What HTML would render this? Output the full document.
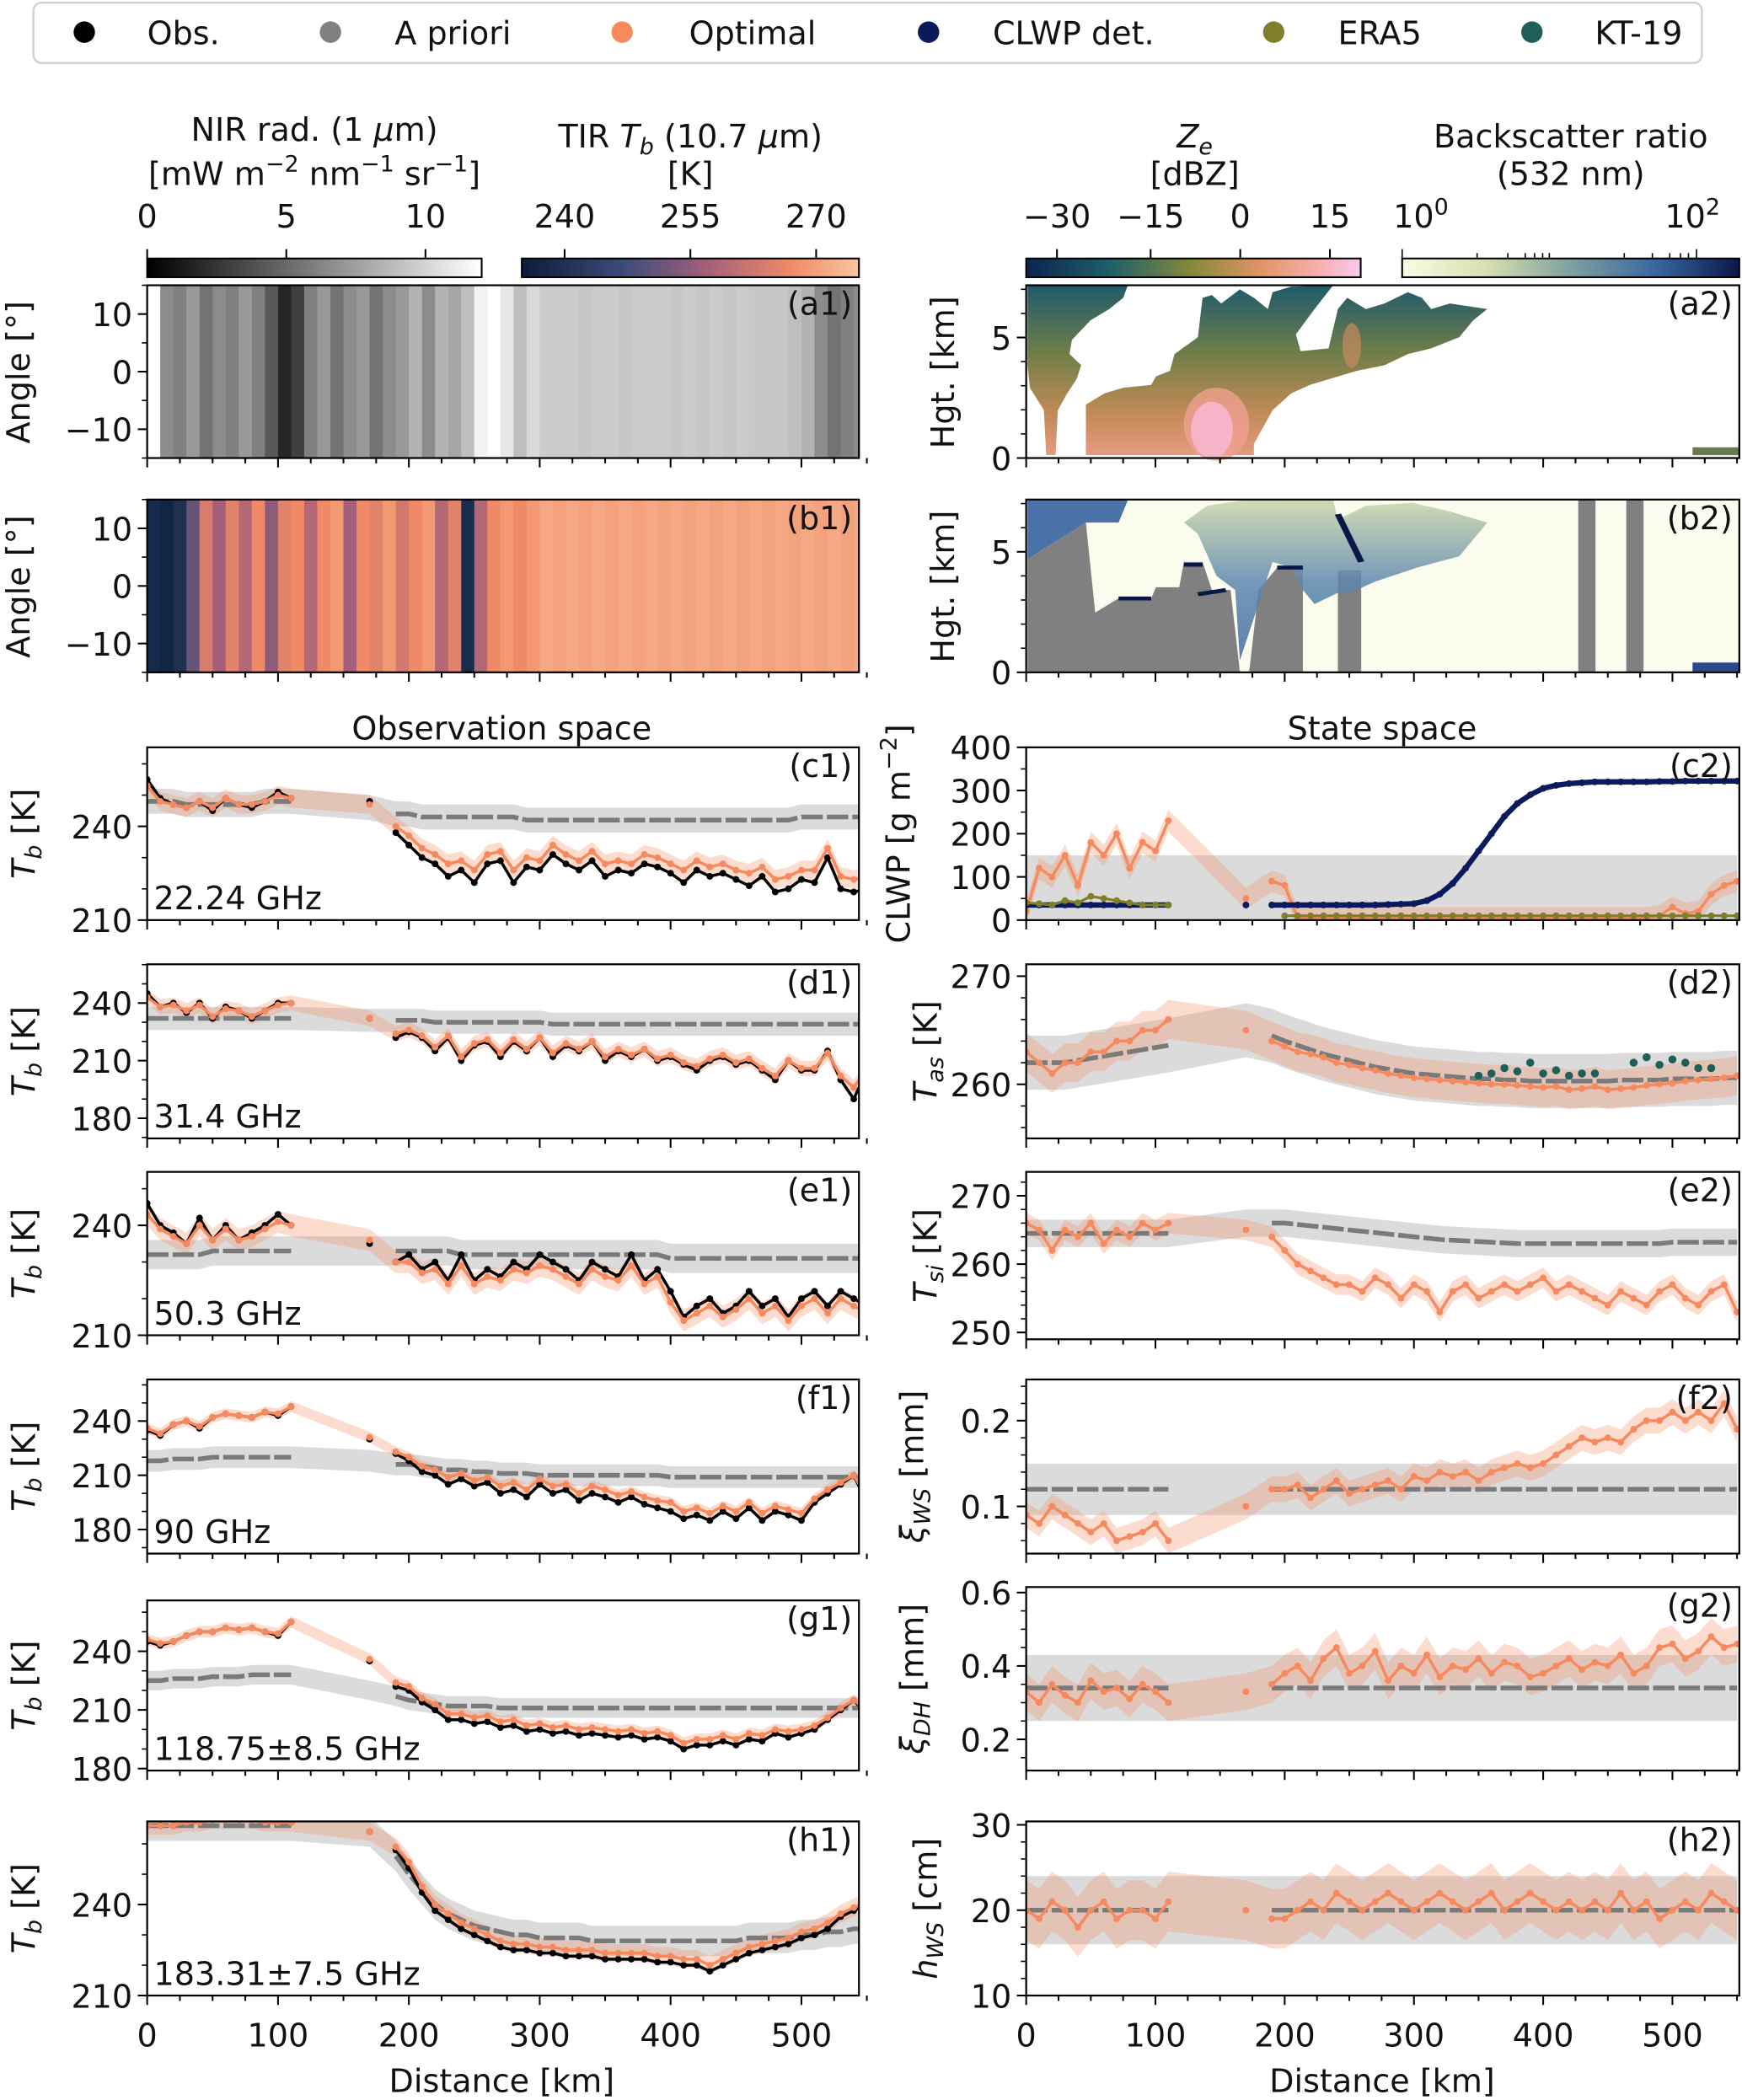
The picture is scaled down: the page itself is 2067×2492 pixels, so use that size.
<!DOCTYPE html>
<html><head><meta charset="utf-8"><style>
html,body{margin:0;padding:0;background:#fff}
svg{display:block}
text{font-family:"DejaVu Sans","Liberation Sans",sans-serif;fill:#111}
</style></head><body>
<svg id="fig" width="2067" height="2492" viewBox="0 0 1302 1568" preserveAspectRatio="none" xmlns="http://www.w3.org/2000/svg">
<defs>
<linearGradient id="gNIR"><stop offset="0" stop-color="#000"/><stop offset="1" stop-color="#fff"/></linearGradient>
<linearGradient id="gTIR"><stop offset="0" stop-color="#0b1d3a"/><stop offset="0.3" stop-color="#3c4c78"/><stop offset="0.55" stop-color="#a4607a"/><stop offset="0.8" stop-color="#f08a66"/><stop offset="1" stop-color="#f7c6a0"/></linearGradient>
<linearGradient id="gZe"><stop offset="0" stop-color="#0c2450"/><stop offset="0.25" stop-color="#1f6068"/><stop offset="0.5" stop-color="#878a3a"/><stop offset="0.7" stop-color="#e09466"/><stop offset="0.88" stop-color="#f8b0b0"/><stop offset="1" stop-color="#f8c8f0"/></linearGradient>
<linearGradient id="gBS"><stop offset="0" stop-color="#fbfbe6"/><stop offset="0.25" stop-color="#d6e0ae"/><stop offset="0.5" stop-color="#7ea0a0"/><stop offset="0.75" stop-color="#3a68a0"/><stop offset="1" stop-color="#0a1848"/></linearGradient>
<linearGradient id="gCloud" x1="0" y1="0" x2="0" y2="1"><stop offset="0" stop-color="#1f5a6c"/><stop offset="0.4" stop-color="#6f7e48"/><stop offset="0.75" stop-color="#c08a55"/><stop offset="1" stop-color="#e69a80"/></linearGradient>
<linearGradient id="gLid" x1="0" y1="0" x2="0" y2="1"><stop offset="0" stop-color="#c9d6a8"/><stop offset="0.5" stop-color="#5f88b0"/><stop offset="1" stop-color="#3f6aa0"/></linearGradient>
</defs>
<g id="root"></g>
</svg>
<script>
const N = null;
const D = [0,10,20,30,40,50,60,70,80,90,100,110,120,130,140,150,160,170,180,190,200,210,220,230,240,250,260,270,280,290,300,310,320,330,340,350,360,370,380,390,400,410,420,430,440,450,460,470,480,490,500,510,520,530,540,550];
// observation-space panels
const c1Obs=[255,249,247,246,248,245,249,247,246,248,251,249,N,N,N,N,N,248,N,238,234,230,228,224,226,222,228,229,222,227,226,231,228,226,229,224,226,225,228,227,225,222,226,224,225,223,221,224,219,220,223,222,230,220,219,220];
const c1Opt=[253,248,247,246,248,246,249,247,247,248,250,249,N,N,N,N,N,247,N,240,237,233,231,228,229,226,231,232,226,230,229,234,231,229,232,228,229,228,231,230,228,226,229,227,228,226,225,227,223,224,226,226,233,224,223,224];
const c1Apr=[248,248,248,247,247,247,247,247,247,248,248,248,N,N,N,N,N,246,N,244,244,243,243,243,243,243,243,243,243,242,242,242,242,242,242,242,242,242,242,242,242,242,242,242,242,242,242,242,242,242,243,243,243,243,243,243];
const d1Obs=[245,238,240,235,240,232,238,236,232,236,240,240,N,N,N,N,N,232,N,222,225,222,215,222,210,218,220,212,220,215,222,212,218,215,220,210,215,212,216,210,212,208,205,210,212,208,210,205,200,210,205,205,215,200,190,205];
const d1Opt=[243,238,239,236,239,233,237,236,233,236,239,240,N,N,N,N,N,232,N,224,226,223,217,223,212,219,221,214,221,216,222,214,219,216,220,212,216,213,216,211,213,209,207,211,213,209,211,206,202,210,206,206,214,202,196,206];
const d1Apr=[232,232,232,232,232,232,232,232,232,232,232,232,N,N,N,N,N,231,N,231,231,231,230,230,230,230,230,230,230,230,230,229,229,229,229,229,229,229,229,229,229,229,229,229,229,229,229,229,229,229,229,229,229,229,229,229];
const e1Obs=[246,240,238,235,242,236,240,236,238,240,243,240,N,N,N,N,N,235,N,230,232,228,230,225,232,225,228,226,230,228,232,230,228,225,230,228,226,232,225,228,222,215,218,220,216,218,222,218,220,215,220,222,218,222,220,218];
const e1Opt=[243,239,237,235,240,236,239,236,237,239,241,240,N,N,N,N,N,236,N,230,230,227,228,224,229,224,226,225,228,227,229,228,226,224,228,226,225,229,224,226,219,214,216,218,215,217,220,216,218,214,218,220,216,220,218,216];
const e1Apr=[232,232,232,232,232,233,233,233,233,233,233,233,N,N,N,N,N,233,N,233,233,233,233,233,232,232,232,232,232,232,232,232,232,232,232,232,232,232,232,232,231,231,231,231,231,231,231,231,231,231,231,231,231,231,231,231];
const f1Obs=[235,232,238,240,236,242,244,243,242,245,243,248,N,N,N,N,N,230,N,222,218,212,210,205,208,204,206,200,202,198,205,200,202,196,200,198,195,198,194,192,190,186,188,185,190,186,192,185,190,188,185,195,200,205,210,195];
const f1Opt=[236,233,238,240,237,242,244,243,242,245,244,248,N,N,N,N,N,231,N,223,220,215,213,209,211,207,209,204,206,202,208,204,205,200,204,202,199,201,198,196,195,190,192,189,193,190,195,189,193,191,189,197,202,206,210,198];
const f1Apr=[218,218,219,219,219,220,220,220,220,220,220,220,N,N,N,N,N,218,N,216,216,215,214,213,213,212,212,211,211,211,210,210,210,210,210,210,210,210,210,210,209,209,209,209,209,209,209,209,209,209,209,209,209,209,209,209];
const g1Obs=[245,243,245,248,250,250,252,251,252,250,248,255,N,N,N,N,N,235,N,222,220,214,210,205,205,203,204,201,202,199,200,198,199,197,198,197,196,197,195,196,194,190,192,192,194,192,195,194,198,196,198,200,205,210,215,208];
const g1Opt=[246,244,245,248,250,250,252,251,252,250,249,255,N,N,N,N,N,236,N,224,222,216,213,208,208,206,207,204,205,202,203,201,202,200,201,200,199,200,198,199,197,193,195,195,197,195,198,197,200,199,200,202,206,211,215,210];
const g1Apr=[225,225,226,226,226,227,227,227,228,228,228,228,N,N,N,N,N,220,N,217,215,214,213,212,212,212,212,211,211,211,211,211,211,211,211,211,211,211,211,211,211,211,211,211,211,211,211,211,211,211,211,211,211,211,211,211];
const h1Obs=[266,266,266,267,267,268,268,268,268,267,267,267,N,N,N,N,N,264,N,258,252,244,238,235,232,230,228,226,225,225,224,224,223,223,223,222,222,222,222,221,221,220,220,218,220,222,224,225,226,227,229,230,232,236,238,240];
const h1Opt=[266,266,266,267,267,268,268,268,268,267,267,267,N,N,N,N,N,264,N,259,254,246,240,237,234,232,230,228,227,227,226,226,225,225,225,224,224,224,224,223,223,222,222,220,222,224,226,227,228,229,231,232,234,237,239,241];
const h1Apr=[266,266,266,266,266,266,266,266,266,266,266,266,N,N,N,N,N,264,N,256,250,245,240,237,235,233,232,231,230,230,229,229,229,229,228,228,228,228,228,228,228,228,228,228,228,228,229,229,229,229,230,230,231,231,232,232];
// state-space panels
const c2Opt=[20,120,100,150,80,180,150,200,120,180,160,230,N,N,N,N,N,50,N,90,80,5,5,5,5,5,5,5,5,5,5,5,5,5,5,5,5,5,5,5,5,5,5,5,5,5,5,5,5,10,30,15,20,60,80,90];
const c2Apr=[75,75,75,75,75,75,75,75,75,75,75,75,N,N,N,N,N,75,N,75,75,75,75,75,75,75,75,75,75,75,75,75,75,75,75,75,75,75,75,75,75,75,75,75,75,75,75,75,75,75,75,75,75,75,75,75];
const c2Det=[35,35,35,35,35,35,35,35,35,35,35,35,N,N,N,N,N,35,N,35,35,35,35,35,35,35,35,35,36,37,38,45,60,85,120,160,200,240,270,290,305,312,316,318,320,320,320,320,320,321,321,322,322,322,322,322];
const c2Era=[40,38,35,45,40,55,50,45,40,35,35,35,N,N,N,N,N,N,N,N,10,10,10,10,10,10,10,10,10,10,10,10,10,10,10,10,10,10,10,10,10,10,10,10,10,10,10,10,10,10,10,10,10,10,10,10];
const d2Opt=[263,262,261,262,262,263,263,264,264,265,265,266,N,N,N,N,N,265,N,264,263.5,263,262.8,262.5,262,261.8,261.5,261.3,261,260.8,260.6,260.5,260.4,260.3,260.2,260.1,260,260,259.9,259.8,259.7,259.8,259.5,259.6,259.8,259.5,259.6,259.7,259.9,260,260.1,260.3,260.4,260.5,260.6,260.8];
const d2Apr=[262,262,262,262,262.2,262.4,262.6,262.8,263,263.2,263.4,263.6,N,N,N,N,N,265,N,264.5,264,263.6,263.2,262.8,262.5,262.2,261.9,261.6,261.4,261.2,261,260.9,260.8,260.7,260.6,260.5,260.5,260.4,260.4,260.3,260.3,260.3,260.3,260.3,260.3,260.3,260.4,260.4,260.4,260.4,260.5,260.5,260.5,260.5,260.6,260.6];
const d2Kt=[N,N,N,N,N,N,N,N,N,N,N,N,N,N,N,N,N,N,N,N,N,N,N,N,N,N,N,N,N,N,N,N,N,N,N,260.8,261,261.5,261.2,262,261,261.3,260.8,261,261,N,N,262,262.5,261.8,262.3,262,261.5,261.5,N,N];
const e2Opt=[266,265,262,265,264,266,263,265,264,266,265,266,N,N,N,N,N,265,N,264,262,260,259,258,257,257,256,258,257,255,257,256,253,256,257,255,256,257,256,257,258,256,257,256,255,254,256,255,254,256,257,255,254,256,257,253];
const e2Apr=[264.5,264.5,264.5,264.5,264.5,264.5,264.5,264.5,264.5,264.5,264.5,264.5,N,N,N,N,N,266,N,266,266,265.8,265.6,265.4,265.2,265,264.8,264.6,264.4,264.2,264,263.8,263.6,263.5,263.4,263.3,263.2,263.1,263,263,263,263,263,263,263,263,263,263,263,263,263.2,263.2,263.2,263.2,263.2,263.2];
const f2Opt=[0.09,0.08,0.1,0.09,0.08,0.07,0.08,0.06,0.065,0.07,0.08,0.06,N,N,N,N,N,0.1,N,0.12,0.12,0.125,0.11,0.12,0.13,0.115,0.12,0.125,0.13,0.12,0.135,0.13,0.14,0.135,0.14,0.13,0.14,0.145,0.15,0.145,0.15,0.16,0.17,0.18,0.175,0.18,0.175,0.19,0.2,0.2,0.21,0.2,0.21,0.2,0.22,0.19];
const f2Apr=[0.12,0.12,0.12,0.12,0.12,0.12,0.12,0.12,0.12,0.12,0.12,0.12,N,N,N,N,N,0.12,N,0.12,0.12,0.12,0.12,0.12,0.12,0.12,0.12,0.12,0.12,0.12,0.12,0.12,0.12,0.12,0.12,0.12,0.12,0.12,0.12,0.12,0.12,0.12,0.12,0.12,0.12,0.12,0.12,0.12,0.12,0.12,0.12,0.12,0.12,0.12,0.12,0.12];
const g2Opt=[0.33,0.3,0.35,0.32,0.3,0.36,0.33,0.34,0.31,0.35,0.33,0.3,N,N,N,N,N,0.33,N,0.35,0.38,0.4,0.36,0.42,0.45,0.38,0.4,0.44,0.36,0.4,0.38,0.43,0.37,0.4,0.39,0.42,0.38,0.41,0.4,0.37,0.38,0.4,0.42,0.39,0.41,0.4,0.43,0.38,0.4,0.45,0.46,0.42,0.44,0.48,0.45,0.46];
const g2Apr=[0.34,0.34,0.34,0.34,0.34,0.34,0.34,0.34,0.34,0.34,0.34,0.34,N,N,N,N,N,0.34,N,0.34,0.34,0.34,0.34,0.34,0.34,0.34,0.34,0.34,0.34,0.34,0.34,0.34,0.34,0.34,0.34,0.34,0.34,0.34,0.34,0.34,0.34,0.34,0.34,0.34,0.34,0.34,0.34,0.34,0.34,0.34,0.34,0.34,0.34,0.34,0.34,0.34];
const h2Opt=[20,19,21,20,18,20,21,19,20,20,19,21,N,N,N,N,N,20,N,19,19,20,21,20,22,21,20,21,22,21,20,21,22,21,20,21,22,20,21,22,21,20,21,20,21,20,22,20,21,19,20,21,20,22,21,20];
const h2Apr=[20,20,20,20,20,20,20,20,20,20,20,20,N,N,N,N,N,20,N,20,20,20,20,20,20,20,20,20,20,20,20,20,20,20,20,20,20,20,20,20,20,20,20,20,20,20,20,20,20,20,20,20,20,20,20,20];
// image strips (per 10 km)
const nirVals=[1.0,0.55,0.5,0.6,0.45,0.55,0.5,0.6,0.5,0.35,0.15,0.25,0.5,0.6,0.45,0.55,0.6,0.45,0.55,0.6,0.7,0.55,0.7,0.65,0.75,0.95,1.0,0.9,0.75,0.85,0.8,0.8,0.8,0.78,0.8,0.8,0.78,0.8,0.8,0.8,0.78,0.8,0.78,0.8,0.78,0.8,0.78,0.78,0.78,0.75,0.7,0.55,0.45,0.5,0.55];
const tirVals=[0.08,0.05,0.12,0.4,0.72,0.55,0.75,0.6,0.8,0.5,0.75,0.8,0.6,0.8,0.85,0.55,0.8,0.75,0.85,0.7,0.8,0.85,0.6,0.75,0.1,0.6,0.8,0.85,0.8,0.85,0.9,0.88,0.9,0.88,0.9,0.88,0.9,0.88,0.9,0.88,0.9,0.88,0.9,0.88,0.9,0.88,0.9,0.88,0.9,0.88,0.9,0.88,0.9,0.88,0.9];

const NS="http://www.w3.org/2000/svg";
const root=document.getElementById('root');
function mk(tag,attrs,parent){const e=document.createElementNS(NS,tag);for(const k in attrs)e.setAttribute(k,attrs[k]);(parent||root).appendChild(e);return e;}
function txt(s,x,y,size,anchor,parent,rot){const t=mk('text',{x:x,y:y,'font-size':size,'text-anchor':anchor||'middle'},parent);if(rot)t.setAttribute('transform','rotate(-90 '+x+' '+y+')');t.innerHTML=s;return t;}

// legend
const lg=mk('g',{});


mk('rect',{x:25,y:2,width:1247,height:45,rx:6,fill:'#fff',stroke:'#d0d0d0','stroke-width':1.5},lg);
const legItems=[['Obs.','#000',63,110],['A priori','#808080',247,295],['Optimal','#f68a5e',465,515],['CLWP det.','#0b1a5c',694,742],['ERA5','#7f7f2a',952,1000],['KT-19','#1f5f5a',1145,1192]];
legItems.forEach(l=>{const g=mk('g',{},lg);


mk('circle',{cx:l[2],cy:24,r:8,fill:l[1]},g);txt(l[0],l[3],33,24,'start',g);});

// colorbars
function cbar(x0,x1,fill,name){const r=mk('rect',{x:x0,y:193,width:x1-x0,height:14,fill:fill,stroke:'#000','stroke-width':1.3});

}
cbar(110,360,'url(#gNIR)','nir-colorbar');cbar(390,642,'url(#gTIR)','tir-colorbar');cbar(767,1017,'url(#gZe)','ze-colorbar');cbar(1048,1300,'url(#gBS)','backscatter-colorbar');
function cbt(x,l){mk('line',{x1:x,x2:x,y1:186,y2:193,stroke:'#000','stroke-width':1.3});if(l!==null)txt(l,x,170,24);}
[[110,'0'],[214,'5'],[318,'10'],[422,'240'],[516,'255'],[610,'270'],[790,'−30'],[860,'−15'],[927,'0'],[994,'15']].forEach(a=>cbt(a[0],a[1]));
txt('10<tspan dy="-10" font-size="17">0</tspan>',1062,170,24);txt('10<tspan dy="-10" font-size="17">2</tspan>',1265,170,24);
mk('line',{x1:1048,x2:1048,y1:186,y2:193,stroke:'#000'});mk('line',{x1:1268,x2:1268,y1:186,y2:193,stroke:'#000'});
[1104,1127,1140,1147,1153,1158,1214,1235,1248,1256,1262].forEach(x=>mk('line',{x1:x,x2:x,y1:189,y2:193,stroke:'#000'}));
txt('NIR rad. (1 <tspan font-style="italic">μ</tspan>m)',235,105,24);
txt('[mW m<tspan dy="-10" font-size="17">−2</tspan><tspan dy="10"> nm</tspan><tspan dy="-10" font-size="17">−1</tspan><tspan dy="10"> sr</tspan><tspan dy="-10" font-size="17">−1</tspan><tspan dy="10">]</tspan>',235,138,24);
txt('TIR <tspan font-style="italic">T</tspan><tspan font-size="17" font-style="italic" dy="5">b</tspan><tspan dy="-5"> (10.7 </tspan><tspan font-style="italic">μ</tspan>m)',516,110,24);
txt('[K]',516,138,24);
txt('<tspan font-style="italic">Z</tspan><tspan font-size="17" font-style="italic" dy="5">e</tspan>',893,110,24);
txt('[dBZ]',893,138,24);
txt('Backscatter ratio',1174,110,24);txt('(532 nm)',1174,138,24);

const sxL=d=>110+d*0.978, sxR=d=>767+d*0.966;

function frame(x0,x1,y0,y1,name){const r=mk('rect',{x:x0,y:y0,width:x1-x0,height:y1-y0,fill:'none',stroke:'#000','stroke-width':1.4});

}
function xticks(sx,y1,labels){for(let d=0;d<=550;d+=25){const x=sx(d);if(x>sx(552))break;const major=d%100===0;mk('line',{x1:x,x2:x,y1:y1,y2:y1+(major?7:4),stroke:'#000','stroke-width':1.3});if(labels&&major)txt(String(d),x,y1+38,24);}}
function yticks(x0,sy,ticks,minor,lo,hi,fmt){ticks.forEach(v=>{const y=sy(v);mk('line',{x1:x0-7,x2:x0,y1:y,y2:y,stroke:'#000','stroke-width':1.3});txt(fmt?fmt(v):String(v).replace('-','−'),x0-11,y+9,24,'end');});
if(minor){for(let v=Math.ceil(lo/minor)*minor;v<=hi;v+=minor){const y=sy(v);mk('line',{x1:x0-4,x2:x0,y1:y,y2:y,stroke:'#000','stroke-width':1});}}}

// a1 image
function strip(sx,y0,y1,vals,colorFn,name){const g=mk('g',{});


vals.forEach((v,i)=>{const x=sx(i*10);const w=sx(i*10+10)-x+0.5;mk('rect',{x:x,y:y0,width:Math.min(w,642-x),height:y1-y0,fill:colorFn(v)},g);});}
strip(sxL,213,342,nirVals,v=>{const c=Math.round(v*255);return 'rgb('+c+','+c+','+c+')';},'nir-image');
const tirStops=[[0,[11,29,58]],[0.3,[60,76,120]],[0.55,[164,96,122]],[0.8,[240,138,102]],[1,[247,198,160]]];
function tirC(t){for(let i=1;i<tirStops.length;i++){if(t<=tirStops[i][0]){const a=tirStops[i-1],b=tirStops[i];const f=(t-a[0])/(b[0]-a[0]);return 'rgb('+a[1].map((c,k)=>Math.round(c+(b[1][k]-c)*f)).join(',')+')';}}return 'rgb(247,198,160)';}
strip(sxL,373,502,tirVals,tirC,'tir-image');
frame(110,642,213,342,'panel-a1');frame(110,642,373,502,'panel-b1');
const syA=v=>277.5-v*4.3;
yticks(110,syA,[10,0,-10],5,-15,15);
const syA2=v=>373+129-0 - (v+15)*4.3; yticks(110,v=>437.5-v*4.3,[10,0,-10],5,-15,15);
xticks(sxL,342,false);xticks(sxL,502,false);
txt('(a1)',637,235,24,'end');txt('(b1)',637,395,24,'end');
txt('Angle [°]',22,278,24,'middle',null,true);txt('Angle [°]',22,438,24,'middle',null,true);

// a2 radar & b2 lidar (shapes in zoom space)
const gA2=mk('g',{transform:'matrix(0.3488 0 0 0.2098 755.8 188.8)'});


mk('polygon',{points:'35,115 250,115 240,160 210,200 170,240 130,310 125,360 150,400 140,450 120,500 100,560 95,720 75,720 70,560 40,480 35,400',fill:'url(#gCloud)'},gA2);
mk('polygon',{points:'160,720 160,540 200,500 240,480 300,470 310,440 340,420 350,360 400,300 410,160 430,150 450,180 490,130 520,160 550,200 560,140 600,120 690,115 650,200 610,290 620,350 680,340 700,200 720,160 760,200 800,180 850,140 880,160 900,200 940,180 1020,200 990,240 960,300 900,340 850,360 800,400 740,420 700,440 640,470 600,500 560,560 520,680 520,720',fill:'url(#gCloud)'},gA2);
mk('ellipse',{cx:440,cy:610,rx:70,ry:130,fill:'#f0a090',opacity:0.8},gA2);
mk('ellipse',{cx:430,cy:630,rx:45,ry:100,fill:'#f6b4c8'},gA2);
mk('ellipse',{cx:730,cy:330,rx:20,ry:80,fill:'#c98a60',opacity:0.7},gA2);
mk('rect',{x:1460,y:692,width:102,height:28,fill:'#6a7a50'},gA2);
const gB2=mk('g',{transform:'matrix(0.3488 0 0 0.2098 755.8 188.8)'});


mk('rect',{x:35,y:880,width:1530,height:610,fill:'#fcfcee'},gB2);
mk('polygon',{points:'35,1090 160,960 180,1280 230,1230 300,1230 310,1190 360,1190 370,1100 410,1100 430,1200 470,1200 490,1490 510,1490 530,1200 570,1120 625,1120 625,1490 35,1490',fill:'#808080'},gB2);
mk('rect',{x:700,y:1130,width:50,height:360,fill:'#808080'},gB2);
mk('rect',{x:1215,y:880,width:37,height:610,fill:'#808080'},gB2);
mk('rect',{x:1318,y:880,width:37,height:610,fill:'#808080'},gB2);
mk('polygon',{points:'35,880 250,880 230,960 160,960 35,1090',fill:'#4a72a8'},gB2);
mk('polygon',{points:'370,960 420,900 500,880 690,880 700,950 760,900 860,890 940,920 1020,960 960,1080 870,1120 780,1170 740,1200 700,1210 650,1250 625,1200 600,1120 560,1100 490,1450 480,1200 440,1150 400,1000',fill:'url(#gLid)',opacity:0.85},gB2);
mk('path',{d:'M230 1230 L300 1230 M370 1110 L410 1110 M570 1120 L625 1120 M700 930 L750 1100 M400 1215 L460 1200',stroke:'#0a1848','stroke-width':14,fill:'none'},gB2);
mk('rect',{x:1460,y:1458,width:102,height:32,fill:'#2a4a8a'},gB2);
frame(767,1300,213,342,'panel-a2');frame(767,1300,373,502,'panel-b2');
yticks(767,v=>342-v*18,[0,5],1,0,7);yticks(767,v=>502-v*18,[0,5],1,0,7);
xticks(sxR,342,false);xticks(sxR,502,false);
txt('(a2)',1295,235,24,'end');txt('(b2)',1295,395,24,'end');
txt('Hgt. [km]',713,278,24,'middle',null,true);txt('Hgt. [km]',713,438,24,'middle',null,true);

txt('Observation space',375,552,24);txt('State space',1033,552,24);

// line panels
const ORG='#f68a5e';
function runs(arr){const r=[];let cur=[];arr.forEach((v,i)=>{if(v===null||v===undefined){if(cur.length)r.push(cur);cur=[];}else cur.push(i);});if(cur.length)r.push(cur);return r;}
function bandPath(arr,sx,sy,w){const idx=[];arr.forEach((v,i)=>{if(v!==null&&v!==undefined)idx.push(i);});
let p='M'+idx.map(i=>sx(D[i])+' '+sy(arr[i]+w)).join(' L');p+=' L'+idx.slice().reverse().map(i=>sx(D[i])+' '+sy(arr[i]-w)).join(' L')+'Z';return p;}
function panel(cfg){
 const {x0,x1,y0,y1,lo,hi,sx}=cfg;const sy=v=>y1-(v-lo)/(hi-lo)*(y1-y0);
 const g=mk('g',{});
 
 
 mk('clipPath',{id:'cp'+cfg.name},g);mk('rect',{x:x0,y:y0,width:x1-x0,height:y1-y0},document.getElementById('cp'+cfg.name));
 const inner=mk('g',{'clip-path':'url(#cp'+cfg.name+')'},g);
 if(cfg.apr){const b=mk('path',{d:bandPath(cfg.apr,sx,sy,cfg.ba),fill:'#b8b8b8','fill-opacity':0.5},inner);
  
  }
 if(cfg.opt){const b=mk('path',{d:bandPath(cfg.opt,sx,sy,cfg.bo),fill:ORG,'fill-opacity':0.3},inner);
  
  }
 if(cfg.apr&&!cfg.noAprLine){runs(cfg.apr).forEach(r=>{const l=mk('path',{d:'M'+r.map(i=>sx(D[i])+' '+sy(cfg.apr[i])).join(' L'),stroke:'#7a7a7a','stroke-width':3.5,fill:'none','stroke-dasharray':'16,3'},inner);
  
  });}
 function dots(arr,col,r,name,line){runs(arr).forEach(rn=>{if(line&&rn.length>1){const l=mk('path',{d:'M'+rn.map(i=>sx(D[i])+' '+sy(arr[i])).join(' L'),stroke:col,'stroke-width':line,fill:'none'},inner);
   
   }});
  arr.forEach((v,i)=>{if(v===null||v===undefined)return;const c=mk('circle',{cx:sx(D[i]),cy:sy(v),r:r,fill:col},inner);
   
   });}
 if(cfg.obs)dots(cfg.obs,'#000',2.5,'obs',2.2);
 if(cfg.opt)dots(cfg.opt,ORG,2.5,'optimal',2.2);
 if(cfg.det)dots(cfg.det,'#0b1a5c',2.5,'clwp-det',4);
 if(cfg.era)dots(cfg.era,'#7f7f2a',2.5,'era5',2);
 if(cfg.kt)dots(cfg.kt,'#1f5f5a',3,'kt19',0);
 frame(x0,x1,y0,y1,cfg.name+'-frame');
 yticks(x0,sy,cfg.ticks,cfg.minor,lo,hi,cfg.fmt);
 xticks(sx,y1,cfg.xl);
 txt(cfg.lab,x1-5,y0+22,24,'end');
 if(cfg.freq)txt(cfg.freq,x0+5,y1-8,24,'start');
 const yl=txt(cfg.ylab,cfg.ylx,(y0+y1)/2,24,'middle',null,true);
 
 
}
const TB='<tspan font-style="italic">T</tspan><tspan font-size="17" font-style="italic" dy="5">b</tspan><tspan dy="-5"> [K]</tspan>';
const L=[
 {name:'panel-c1',y0:558,y1:687,lo:210,hi:265.3,obs:c1Obs,opt:c1Opt,apr:c1Apr,bo:3,ba:4,ticks:[210,240],minor:10,lab:'(c1)',freq:'22.24 GHz'},
 {name:'panel-d1',y0:720,y1:850,lo:169.5,hi:260.2,obs:d1Obs,opt:d1Opt,apr:d1Apr,bo:4,ba:6,ticks:[180,210,240],minor:10,lab:'(d1)',freq:'31.4 GHz'},
 {name:'panel-e1',y0:875,y1:997,lo:210,hi:254.6,obs:e1Obs,opt:e1Opt,apr:e1Apr,bo:3,ba:4,ticks:[210,240],minor:10,lab:'(e1)',freq:'50.3 GHz'},
 {name:'panel-f1',y0:1030,y1:1160,lo:166.7,hi:263,obs:f1Obs,opt:f1Opt,apr:f1Apr,bo:3,ba:6,ticks:[180,210,240],minor:10,lab:'(f1)',freq:'90 GHz'},
 {name:'panel-g1',y0:1195,y1:1322,lo:179,hi:266,obs:g1Obs,opt:g1Opt,apr:g1Apr,bo:3,ba:5,ticks:[180,210,240],minor:10,lab:'(g1)',freq:'118.75±8.5 GHz'},
 {name:'panel-h1',y0:1360,y1:1490,lo:210,hi:267.4,obs:h1Obs,opt:h1Opt,apr:h1Apr,bo:3,ba:5,ticks:[210,240],minor:10,lab:'(h1)',freq:'183.31±7.5 GHz',xl:true}
];
L.forEach(c=>{c.x0=110;c.x1=642;c.sx=sxL;c.ylab=TB;c.ylx=26;panel(c);});
const f2=v=>v.toFixed(1);
const R=[
 {name:'panel-c2',y0:558,y1:687,lo:0,hi:400,opt:c2Opt,apr:c2Apr,det:c2Det,era:c2Era,bo:25,ba:75,noAprLine:true,ticks:[0,100,200,300,400],minor:50,lab:'(c2)',ylab:'CLWP [g m<tspan dy="-10" font-size="17">−2</tspan><tspan dy="10">]</tspan>',ylx:680},
 {name:'panel-d2',y0:720,y1:850,lo:255,hi:271.1,opt:d2Opt,apr:d2Apr,kt:d2Kt,bo:1.8,ba:2.5,ticks:[260,270],minor:2,lab:'(d2)',ylab:'<tspan font-style="italic">T</tspan><tspan font-size="17" font-style="italic" dy="5">as</tspan><tspan dy="-5"> [K]</tspan>',ylx:700},
 {name:'panel-e2',y0:875,y1:1000,lo:249,hi:273.5,opt:e2Opt,apr:e2Apr,bo:1.5,ba:2,ticks:[250,260,270],minor:2,lab:'(e2)',ylab:'<tspan font-style="italic">T</tspan><tspan font-size="17" font-style="italic" dy="5">si</tspan><tspan dy="-5"> [K]</tspan>',ylx:700},
 {name:'panel-f2',y0:1030,y1:1160,lo:0.045,hi:0.248,opt:f2Opt,apr:f2Apr,bo:0.015,ba:0.03,ticks:[0.1,0.2],minor:0.02,fmt:f2,lab:'(f2)',ylab:'<tspan font-style="italic">ξ</tspan><tspan font-size="17" font-style="italic" dy="5">WS</tspan><tspan dy="-5"> [mm]</tspan>',ylx:690},
 {name:'panel-g2',y0:1185,y1:1322,lo:0.115,hi:0.615,opt:g2Opt,apr:g2Apr,bo:0.05,ba:0.09,ticks:[0.2,0.4,0.6],minor:0.05,fmt:f2,lab:'(g2)',ylab:'<tspan font-style="italic">ξ</tspan><tspan font-size="17" font-style="italic" dy="5">DH</tspan><tspan dy="-5"> [mm]</tspan>',ylx:690},
 {name:'panel-h2',y0:1360,y1:1490,lo:10,hi:30.4,opt:h2Opt,apr:h2Apr,bo:3.5,ba:4,ticks:[10,20,30],minor:2,lab:'(h2)',ylab:'<tspan font-style="italic">h</tspan><tspan font-size="17" font-style="italic" dy="5">WS</tspan><tspan dy="-5"> [cm]</tspan>',ylx:700,xl:true}
];
R.forEach(c=>{c.x0=767;c.x1=1300;c.sx=sxR;panel(c);});
const xt1=txt('Distance [km]',375,1562,24);


const xt2=txt('Distance [km]',1033,1562,24);


</script>
</body></html>
